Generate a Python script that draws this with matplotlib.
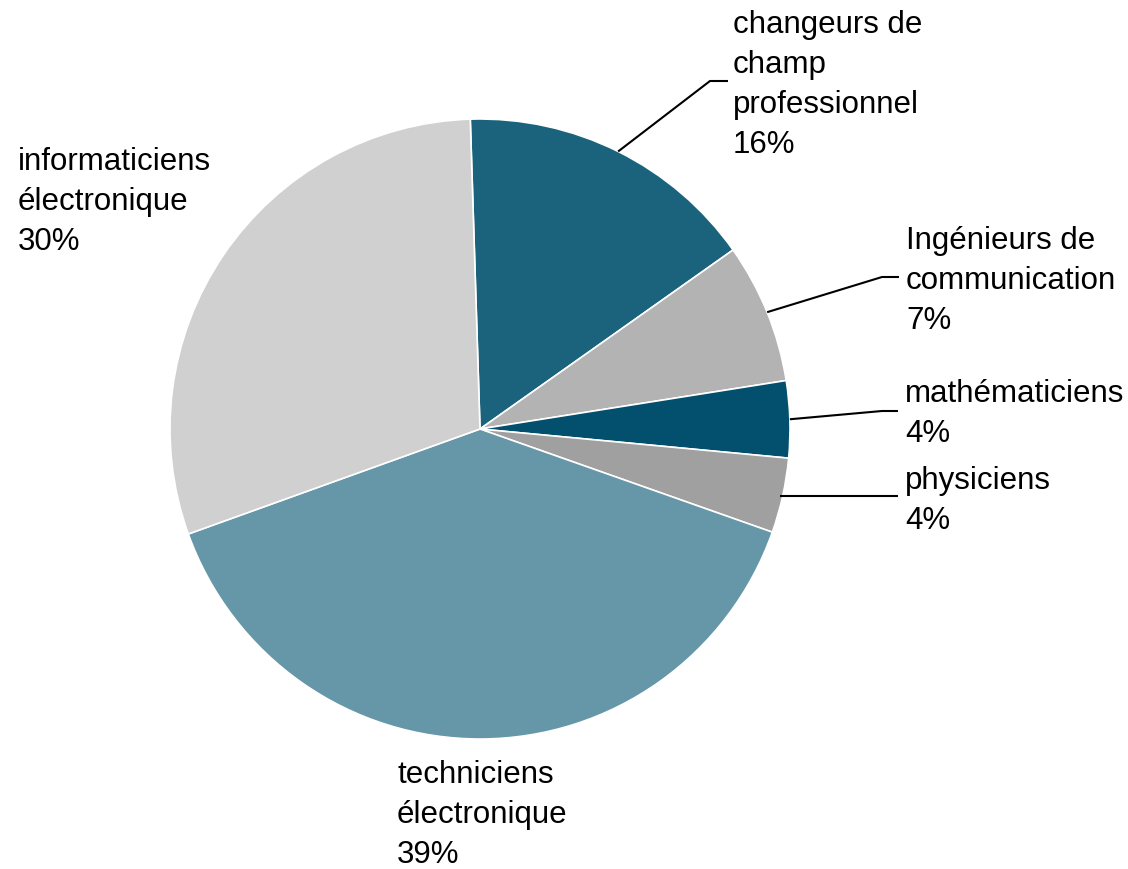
import numpy as np
import matplotlib.pyplot as plt

plt.rcParams["font.family"] = ["Liberation Sans", "DejaVu Sans"]

# slice data, clockwise from the top
categories = [
    "changeurs de\nchamp\nprofessionnel",
    "Ingénieurs de\ncommunication",
    "mathématiciens",
    "physiciens",
    "techniciens\nélectronique",
    "informaticiens\nélectronique",
]
shares = [15.7, 7.3, 4.0, 3.9, 39.1, 30.0]
pct_labels = ["16%", "7%", "4%", "4%", "39%", "30%"]
colors = ["#1B637C", "#B3B3B3", "#02506D", "#A0A0A0", "#6597A8", "#D0D0D0"]

W, H = 1128, 869
cx, cy, r = 480, H - 429, 310
start = 91.8
line_gap = 40

fig = plt.figure(figsize=(W / 100, H / 100), dpi=100)
ax = fig.add_axes([0, 0, 1, 1])

wedges, _ = ax.pie(
    shares,
    colors=colors,
    startangle=start,
    counterclock=False,
    center=(cx, cy),
    radius=r,
    wedgeprops=dict(edgecolor="white", linewidth=1.2),
    frame=True,
)
ax.set_xlim(0, W)
ax.set_ylim(0, H)
ax.set_aspect("equal")
ax.axis("off")

# label layout: (text x, first baseline from top, elbow, line end x/y)
# an end y of None means a flat leader line
layout = [
    (733, 33, (710, 81), (728, 81)),
    (906, 249, (882, 277), (899, 277)),
    (905, 402, (882, 411), (898, 411)),
    (905, 489, None, (898, None)),
    (397, 783, None, None),
    (18, 170, None, None),
]

for w, cat, pct, (tx, by, elbow, end) in zip(wedges, categories, pct_labels, layout):
    lines = cat.split("\n") + [pct]
    for i, s in enumerate(lines):
        ax.text(tx, H - (by + i * line_gap), s, fontsize=22.5,
                va="baseline", ha="left", color="black")
    if end is not None:
        mid = np.deg2rad((w.theta1 + w.theta2) / 2)
        x0 = cx + r * np.cos(mid)
        y0 = cy + r * np.sin(mid)
        if elbow is None:
            xs = [x0 - 3, end[0]]
            ye = y0 if end[1] is None else H - end[1]
            ys = [y0, ye]
        else:
            xs = [x0, elbow[0], end[0]]
            ys = [y0, H - elbow[1], H - end[1]]
        ax.plot(xs, ys, color="black", lw=1.5, solid_capstyle="butt")

fig.savefig("out.png", dpi=100, facecolor="white")
